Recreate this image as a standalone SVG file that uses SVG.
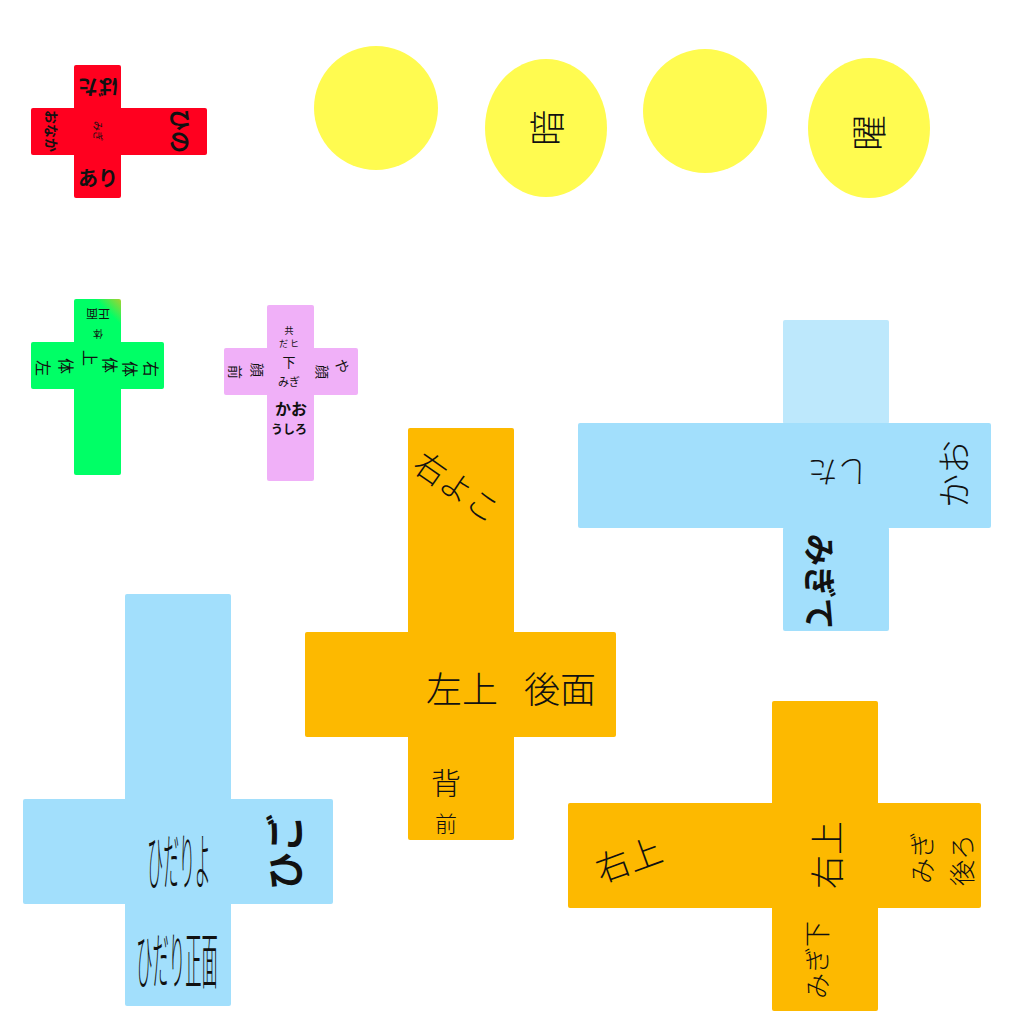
<svg xmlns="http://www.w3.org/2000/svg" width="1024" height="1024" viewBox="0 0 1024 1024">
<defs>
<linearGradient id="gtop" gradientUnits="userSpaceOnUse" x1="95" y1="325" x2="121" y2="299">
<stop offset="0" stop-color="#00FF66"/><stop offset="0.5" stop-color="#00FF66"/><stop offset="1" stop-color="#A8D030"/>
</linearGradient>
<style>
.t{font-family:"Noto Sans CJK JP","Noto Sans",sans-serif;fill:#111;}
.th{font-weight:300;}
.red{fill:#FF001F}
.yel{fill:#FFFB50}
.grn{fill:#00FF66}
.pnk{fill:#F0B0F8}
.blu{fill:#A2DFFC}
.lbl{fill:#BDE8FC}
.org{fill:#FDB900}
</style>
</defs>
<rect width="1024" height="1024" fill="#FFFFFF"/>

<g id="red-cross">
<rect class="red" x="74" y="65" width="47" height="133" rx="2"/>
<rect class="red" x="31" y="108" width="176" height="47" rx="2"/>
<text class="t" font-size="20" font-weight="bold" transform="translate(98,87) rotate(180)" text-anchor="middle" dominant-baseline="central">ばた</text>
<text class="t" font-size="14" font-weight="bold" transform="translate(52,131) rotate(90)" text-anchor="middle" dominant-baseline="central">おなか</text>
<text class="t" font-size="10" transform="translate(98,131) rotate(90)" text-anchor="middle" dominant-baseline="central">みぎ</text>
<text class="t" font-size="22" font-weight="bold" transform="translate(182,131) rotate(90)" text-anchor="middle" dominant-baseline="central">ひの</text>
<text class="t" font-size="20" font-weight="bold" transform="translate(98,177)" text-anchor="middle" dominant-baseline="central">あり</text>
</g>

<g id="circle-1"><ellipse class="yel" cx="376" cy="108" rx="62" ry="62"/></g>
<g id="circle-2"><ellipse class="yel" cx="546" cy="128" rx="61" ry="69"/>
<text class="t th" font-size="36" transform="translate(545,128) rotate(-90)" text-anchor="middle" dominant-baseline="central">暗</text></g>
<g id="circle-3"><ellipse class="yel" cx="705" cy="111" rx="62" ry="62"/></g>
<g id="circle-4"><ellipse class="yel" cx="869" cy="128" rx="61" ry="70"/>
<text class="t th" font-size="36" transform="translate(867,133) rotate(-90)" text-anchor="middle" dominant-baseline="central">曜</text></g>

<g id="green-cross">
<rect fill="url(#gtop)" x="74" y="299" width="47" height="176" rx="2"/>
<rect class="grn" x="31" y="342" width="133" height="47" rx="2"/>
<text class="t" font-size="12" transform="translate(98,314) rotate(180)" text-anchor="middle" dominant-baseline="central">正面</text>
<text class="t" font-size="10" transform="translate(98,334) rotate(180)" text-anchor="middle" dominant-baseline="central">体</text>
<text class="t" font-size="16" transform="translate(44,368) rotate(90)" text-anchor="middle" dominant-baseline="central">左</text>
<text class="t" font-size="16" transform="translate(67,366) rotate(90)" text-anchor="middle" dominant-baseline="central">体</text>
<text class="t" font-size="16" transform="translate(91,358) rotate(90)" text-anchor="middle" dominant-baseline="central">上</text>
<text class="t" font-size="16" transform="translate(111,365) rotate(90)" text-anchor="middle" dominant-baseline="central">体</text>
<text class="t" font-size="16" transform="translate(131,369) rotate(90)" text-anchor="middle" dominant-baseline="central">体</text>
<text class="t" font-size="16" transform="translate(152,369) rotate(90)" text-anchor="middle" dominant-baseline="central">右</text>
</g>

<g id="pink-cross">
<rect class="pnk" x="267" y="305" width="47" height="176" rx="2"/>
<rect class="pnk" x="224" y="348" width="134" height="47" rx="2"/>
<text class="t" font-size="9" x="289" y="330" text-anchor="middle" dominant-baseline="central">共</text>
<text class="t" font-size="9" x="289" y="343" text-anchor="middle" dominant-baseline="central">だ   ヒ</text>
<text class="t" font-size="14" transform="translate(236,372) rotate(90)" text-anchor="middle" dominant-baseline="central">前</text>
<text class="t" font-size="14" transform="translate(258,370) rotate(90)" text-anchor="middle" dominant-baseline="central">顔</text>
<text class="t" font-size="13" x="289" y="361" text-anchor="middle" dominant-baseline="central">下</text>
<text class="t" font-size="11" x="289" y="381" text-anchor="middle" dominant-baseline="central">みぎ</text>
<text class="t" font-size="14" transform="translate(323,372) rotate(90)" text-anchor="middle" dominant-baseline="central">顔</text>
<text class="t" font-size="14" transform="translate(343,366) rotate(90)" text-anchor="middle" dominant-baseline="central">や</text>
<text class="t" font-size="16" font-weight="bold" x="291" y="408" text-anchor="middle" dominant-baseline="central">かお</text>
<text class="t" font-size="12" font-weight="bold" x="289" y="428" text-anchor="middle" dominant-baseline="central">うしろ</text>
</g>

<g id="blue-cross-top">
<rect class="lbl" x="783" y="320" width="106" height="104" rx="2"/>
<rect class="blu" x="578" y="423" width="413" height="105" rx="2"/>
<rect class="blu" x="783" y="527" width="106" height="104" rx="2"/>
<text class="t th" font-size="34" transform="translate(952,474) rotate(-90)" text-anchor="middle" dominant-baseline="central">かお</text>
<text class="t th" font-size="30" transform="translate(838,474) rotate(180)" text-anchor="middle" dominant-baseline="central">した</text>
<text class="t" font-size="32" font-weight="bold" transform="translate(822,582) rotate(90)" text-anchor="middle" dominant-baseline="central">みぎて</text>
</g>

<g id="orange-cross-mid">
<rect class="org" x="408" y="428" width="106" height="412" rx="2"/>
<rect class="org" x="305" y="632" width="311" height="105" rx="2"/>
<text class="t th" font-size="32" transform="translate(458,485) rotate(35)" text-anchor="middle" dominant-baseline="central">右よこ</text>
<text class="t th" font-size="36" x="462" y="687" text-anchor="middle" dominant-baseline="central">左上</text>
<text class="t th" font-size="36" x="560" y="687" text-anchor="middle" dominant-baseline="central">後面</text>
<text class="t th" font-size="30" x="446" y="781" text-anchor="middle" dominant-baseline="central">背</text>
<text class="t th" font-size="22" x="446" y="822" text-anchor="middle" dominant-baseline="central">前</text>
</g>

<g id="blue-cross-bottom">
<rect class="blu" x="125" y="594" width="106" height="412" rx="2"/>
<rect class="blu" x="23" y="799" width="310" height="105" rx="2"/>
<text class="t th" font-size="24" text-anchor="middle" dominant-baseline="central" transform="translate(179,858) scale(0.66,2.6)">ひだりよ</text>
<text class="t th" font-size="24" text-anchor="middle" dominant-baseline="central" transform="translate(177,957) scale(0.68,2.6)">ひだり正面</text>
<text class="t" font-size="38" font-weight="bold" transform="translate(282,852) rotate(-90)" text-anchor="middle" dominant-baseline="central">ひご</text>
</g>

<g id="orange-cross-bottom">
<rect class="org" x="772" y="701" width="106" height="310" rx="2"/>
<rect class="org" x="568" y="803" width="413" height="105" rx="2"/>
<text class="t th" font-size="34" transform="translate(628,858) rotate(-20)" text-anchor="middle" dominant-baseline="central">右上</text>
<text class="t th" font-size="34" transform="translate(825,855) rotate(-90)" text-anchor="middle" dominant-baseline="central">右上</text>
<text class="t th" font-size="26" transform="translate(920,858) rotate(-90)" text-anchor="middle" dominant-baseline="central">みぎ</text>
<text class="t th" font-size="26" transform="translate(960,860) rotate(-90)" text-anchor="middle" dominant-baseline="central">後ろ</text>
<text class="t th" font-size="26" transform="translate(815,960) rotate(-90)" text-anchor="middle" dominant-baseline="central">みぎ下</text>
</g>
</svg>
